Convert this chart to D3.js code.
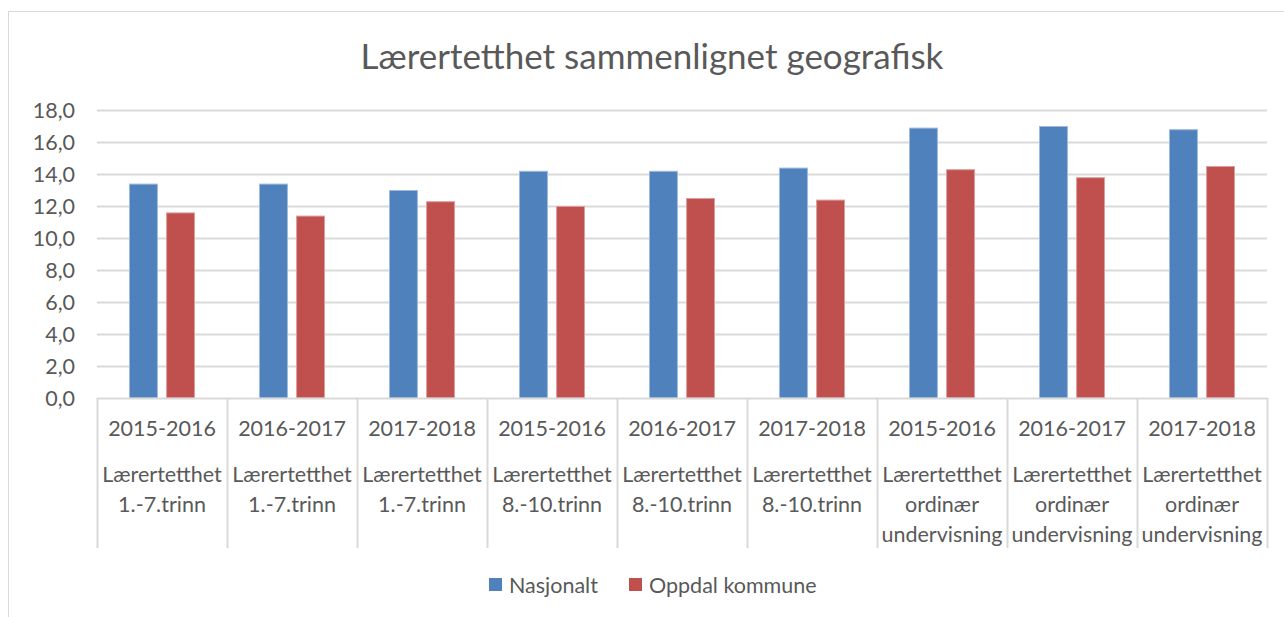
<!DOCTYPE html>
<html>
<head>
<meta charset="utf-8">
<script src="https://cdn.jsdelivr.net/npm/d3@7"></script>
<style>
  html, body { margin: 0; padding: 0; background: #fff; }
  svg { display: block; font-family: Lato, "Open Sans", sans-serif; }
</style>
</head>
<body>
<svg id="chart" width="1284" height="617"></svg>
<script>
// data
const years = ["2015-2016", "2016-2017", "2017-2018", "2015-2016", "2016-2017", "2017-2018", "2015-2016", "2016-2017", "2017-2018"];
const groupLines = [
  ["Lærertetthet", "1.-7.trinn"], ["Lærertetthet", "1.-7.trinn"], ["Lærertetthet", "1.-7.trinn"],
  ["Lærertetthet", "8.-10.trinn"], ["Lærertetthet", "8.-10.trinn"], ["Lærertetthet", "8.-10.trinn"],
  ["Lærertetthet", "ordinær", "undervisning"], ["Lærertetthet", "ordinær", "undervisning"], ["Lærertetthet", "ordinær", "undervisning"]
];
const seriesNames = ["Nasjonalt", "Oppdal kommune"];
const nasjonalt = [13.4, 13.4, 13.0, 14.2, 14.2, 14.4, 16.9, 17.0, 16.8];
const oppdal = [11.6, 11.4, 12.3, 12.0, 12.5, 12.4, 14.3, 13.8, 14.5];
const yTicks = [0, 2, 4, 6, 8, 10, 12, 14, 16, 18];
const colors = ["#4F81BD", "#C0504D"];
const strokes = ["#9DB9DD", "#DC9D9B"];

const svg = d3.select("#chart");
const textColor = "#595959";
const gridColor = "#D9D9D9";
const labelSize = 21.5;

// chart frame
svg.append("rect")
  .attr("x", 8.5).attr("y", 11.5)
  .attr("width", 1400).attr("height", 700)
  .attr("fill", "#fff")
  .attr("stroke", gridColor);

const plot = { left: 97, right: 1267, top: 110, bottom: 398 };
const idx = d3.range(years.length);

const x0 = d3.scaleBand().domain(idx).range([plot.left, plot.right]);
const x1 = d3.scaleBand().domain(seriesNames).range([32, 98]).paddingInner(0.22);
const y = d3.scaleLinear().domain([0, 18]).range([plot.bottom, plot.top]);

const fmt = d3.formatLocale({ decimal: ",", thousands: " ", grouping: [3], currency: ["", ""] }).format(".1f");

// title
svg.append("text")
  .attr("x", 652).attr("y", 55)
  .attr("text-anchor", "middle")
  .attr("dominant-baseline", "central")
  .attr("font-size", 35)
  .attr("fill", textColor)
  .text("Lærertetthet sammenlignet geografisk");

// gridlines
svg.append("g").selectAll("line").data(yTicks.filter(d => d > 0)).join("line")
  .attr("x1", plot.left).attr("x2", plot.right)
  .attr("y1", d => y(d) + 0.5).attr("y2", d => y(d) + 0.5)
  .attr("stroke", gridColor).attr("stroke-width", 2);

// y labels
svg.append("g").selectAll("text").data(yTicks).join("text")
  .attr("x", 75).attr("y", d => y(d))
  .attr("text-anchor", "end")
  .attr("dominant-baseline", "central")
  .attr("font-size", labelSize)
  .attr("fill", textColor)
  .text(d => fmt(d));

// bars
const values = [nasjonalt, oppdal];
const barG = svg.append("g");
seriesNames.forEach((name, s) => {
  barG.append("g").selectAll("rect").data(idx).join("rect")
    .attr("x", i => x0(i) + x1(name) + 0.5)
    .attr("y", i => y(values[s][i]) + 0.5)
    .attr("width", x1.bandwidth() - 1)
    .attr("height", i => y(0) - y(values[s][i]) - 0.5)
    .attr("fill", colors[s])
    .attr("stroke", strokes[s])
    .attr("stroke-width", 1);
});

// baseline and category dividers
svg.append("line")
  .attr("x1", plot.left).attr("x2", plot.right)
  .attr("y1", plot.bottom + 0.5).attr("y2", plot.bottom + 0.5)
  .attr("stroke", gridColor).attr("stroke-width", 2);

svg.append("g").selectAll("line").data(d3.range(years.length + 1)).join("line")
  .attr("x1", i => (i < years.length ? x0(i) : plot.right) + 0.5)
  .attr("x2", i => (i < years.length ? x0(i) : plot.right) + 0.5)
  .attr("y1", plot.bottom).attr("y2", 548)
  .attr("stroke", gridColor).attr("stroke-width", 2);

// x labels
const xl = svg.append("g").attr("font-size", labelSize).attr("fill", textColor).attr("text-anchor", "middle");
xl.selectAll("text.year").data(idx).join("text")
  .attr("class", "year")
  .attr("x", i => x0(i) + x0.bandwidth() / 2)
  .attr("y", 428)
  .attr("dominant-baseline", "central")
  .text(i => years[i]);

idx.forEach(i => {
  xl.append("g").selectAll("text").data(groupLines[i]).join("text")
    .attr("x", x0(i) + x0.bandwidth() / 2)
    .attr("y", (d, k) => 474 + k * 30)
    .attr("dominant-baseline", "central")
    .text(d => d);
});

// legend
const legendX = [489, 629];
const lg = svg.append("g");
seriesNames.forEach((name, s) => {
  lg.append("rect")
    .attr("x", legendX[s]).attr("y", 578)
    .attr("width", 13).attr("height", 13)
    .attr("fill", colors[s]);
  lg.append("text")
    .attr("x", legendX[s] + 20).attr("y", 585)
    .attr("dominant-baseline", "central")
    .attr("font-size", labelSize)
    .attr("fill", textColor)
    .text(name);
});
</script>
</body>
</html>
